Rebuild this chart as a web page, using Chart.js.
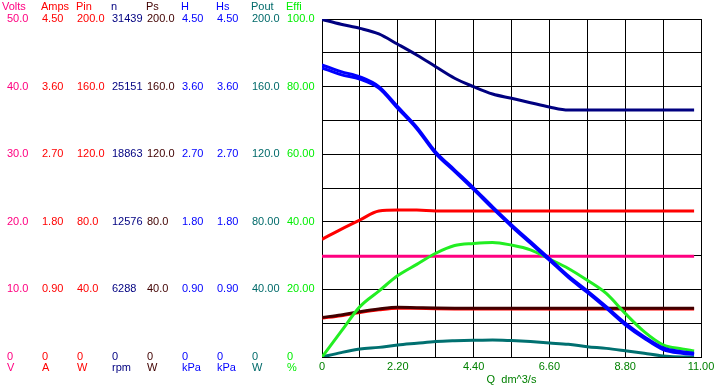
<!DOCTYPE html>
<html>
<head>
<meta charset="utf-8">
<script src="https://cdn.jsdelivr.net/npm/chart.js@4.4.1/dist/chart.umd.min.js"></script>
<style>
  html, body { margin: 0; padding: 0; background: #fff; }
</style>
</head>
<body>
<canvas id="fanChart" width="719" height="385"></canvas>
<script>
// flow rate Q (dm^3/s) where the curves were read
const flow = [0, 0.55, 1.1, 1.65, 2.2, 2.75, 3.3, 3.85, 4.4, 4.95, 5.5, 6.05, 6.6, 7.15, 7.7, 8.25, 8.8, 9.35, 9.9, 10.45, 10.8];

const volts = [14.9, 14.9, 14.9, 14.9, 14.9, 14.9, 14.9, 14.9, 14.9, 14.9, 14.9, 14.9, 14.9, 14.9, 14.9, 14.9, 14.9, 14.9, 14.9, 14.9, 14.9];
const amps  = [1.567, 1.70, 1.824, 1.944, 1.957, 1.957, 1.944, 1.944, 1.944, 1.944, 1.944, 1.944, 1.944, 1.944, 1.944, 1.944, 1.944, 1.944, 1.944, 1.944, 1.944];
const pin   = [23.0, 24.4, 26.3, 27.9, 28.9, 28.8, 28.5, 28.4, 28.4, 28.4, 28.4, 28.4, 28.4, 28.4, 28.4, 28.4, 28.4, 28.4, 28.4, 28.4, 28.4];
const speed = [31400, 30950, 30570, 30050, 29086, 28090, 27002, 25925, 25142, 24462, 24063, 23654, 23254, 22975, 22975, 22975, 22975, 22975, 22975, 22975, 22975];
const ps    = [23.4, 24.9, 26.8, 28.4, 29.4, 29.2, 29.0, 28.9, 28.9, 28.9, 28.9, 28.9, 28.9, 28.9, 28.9, 28.9, 28.9, 28.9, 28.9, 28.9, 28.9];
const head  = [3.89, 3.80, 3.73, 3.60, 3.33, 3.06, 2.73, 2.49, 2.25, 2.00, 1.76, 1.535, 1.31, 1.08, 0.88, 0.67, 0.45, 0.27, 0.12, 0.07, 0.05];
const headS = [3.85, 3.76, 3.70, 3.58, 3.31, 3.04, 2.71, 2.47, 2.23, 1.98, 1.74, 1.515, 1.29, 1.06, 0.86, 0.65, 0.43, 0.25, 0.10, 0.05, 0.035];
const pout  = [0, 2.6, 4.7, 5.7, 7.1, 8.1, 9.1, 9.6, 9.9, 10.1, 9.7, 9.1, 8.3, 7.5, 6.1, 5.1, 3.7, 2.2, 0.6, 0, 0];
const effi  = [0, 7.5, 14.9, 19.5, 24.1, 27.4, 30.7, 33.0, 33.6, 33.9, 33.1, 31.7, 29.0, 26.2, 22.7, 18.8, 12.9, 7.5, 3.6, 2.4, 1.8];

// axis columns, left to right
const axisNames  = ['Volts', 'Amps', 'Pin', 'n', 'Ps', 'H', 'Hs', 'Pout', 'Effi'];
const axisUnits  = ['V', 'A', 'W', 'rpm', 'W', 'kPa', 'kPa', 'W', '%'];
const axisMax    = [50, 4.5, 200, 31439, 200, 4.5, 4.5, 200, 100];
const axisColors = ['#ff0080', '#ff0000', '#ff0000', '#000080', '#400000', '#0000ff', '#0000ff', '#006a6a', '#00ee00'];

const voltsTicks = ['0', '10.0', '20.0', '30.0', '40.0', '50.0'];
const ampsTicks  = ['0', '0.90', '1.80', '2.70', '3.60', '4.50'];
const pinTicks   = ['0', '40.0', '80.0', '120.0', '160.0', '200.0'];
const nTicks     = ['0', '6288', '12576', '18863', '25151', '31439'];
const psTicks    = ['0', '40.0', '80.0', '120.0', '160.0', '200.0'];
const hTicks     = ['0', '0.90', '1.80', '2.70', '3.60', '4.50'];
const hsTicks    = ['0', '0.90', '1.80', '2.70', '3.60', '4.50'];
const poutTicks  = ['0', '40.00', '80.00', '120.0', '160.0', '200.0'];
const effiTicks  = ['0', '20.00', '40.00', '60.00', '80.00', '100.0'];
const qTicks     = ['0', '2.20', '4.40', '6.60', '8.80', '11.00'];

const axisTicks = [voltsTicks, ampsTicks, pinTicks, nTicks, psTicks, hTicks, hsTicks, poutTicks, effiTicks];

const FONT = '"Liberation Sans", Arial, sans-serif';
Chart.defaults.font.family = FONT;
Chart.defaults.font.size = 11;

function series(values, axis, color) {
  return {
    data: flow.map((q, k) => ({ x: q, y: values[k] })),
    yAxisID: axis,
    borderColor: color,
    backgroundColor: color,
    borderWidth: 3,
    pointRadius: 0,
    cubicInterpolationMode: 'monotone',
    fill: false,
  };
}

// first dataset ends up on top
const datasets = [
  series(head, 'H', '#0000ff'),
  series(headS, 'Hs', '#0000ff'),
  series(speed, 'n', '#000080'),
  series(effi, 'Effi', '#22ee22'),
  series(ps, 'Ps', '#400000'),
  series(pout, 'Pout', '#007070'),
  series(volts, 'Volts', '#ff0080'),
  series(pin, 'Pin', '#ff0000'),
  series(amps, 'Amps', '#ff0000'),
];

const scales = {
  x: {
    type: 'linear', min: 0, max: 11,
    ticks: {
      count: 11, autoSkip: false, maxRotation: 0, padding: 3, color: '#008000',
      callback: (v, i) => (i % 2 ? '' : qTicks[i / 2])
    },
    grid: { color: '#000', lineWidth: 1, drawTicks: false, tickLength: 0 },
    border: { color: '#000' },
    title: { display: true, text: 'Q  dm^3/s', color: '#008000', padding: 0, font: { size: 11, lineHeight: 1 } },
    afterFit: (s) => { s.height = 28; }
  }
};

axisNames.forEach((name, i) => {
  scales[name] = {
    type: 'linear', position: 'left', weight: axisNames.length - i,
    min: 0, max: axisMax[i],
    ticks: {
      count: 11, autoSkip: false, crossAlign: 'far', color: axisColors[i],
      callback: (v, k) => (k % 2 ? '' : axisTicks[i][k / 2])
    },
    grid: { display: name === 'Effi', color: '#000', lineWidth: 1, drawTicks: false, tickLength: 0 },
    border: { display: name === 'Effi', color: '#000' },
    afterFit: (s) => { s.width = 35; }
  };
});

// column headers above and units below each axis column
const columnTitles = {
  id: 'columnTitles',
  afterDraw(chart) {
    const ctx = chart.ctx;
    ctx.save();
    ctx.font = '11px ' + FONT;
    ctx.textAlign = 'left';
    ctx.textBaseline = 'middle';
    axisNames.forEach((name, i) => {
      const s = chart.scales[name];
      ctx.fillStyle = axisColors[i];
      ctx.fillText(name, s.left - (i === 0 ? 5 : 1), 7);
      ctx.fillText(axisUnits[i], s.left, chart.chartArea.bottom + 11);
    });
    ctx.restore();
  }
};

new Chart(document.getElementById('fanChart'), {
  type: 'line',
  data: { datasets },
  options: {
    responsive: false,
    animation: false,
    layout: { padding: { left: 7, top: 19, right: 18, bottom: 0 } },
    plugins: { legend: { display: false }, tooltip: { enabled: false } },
    scales
  },
  plugins: [columnTitles]
});
</script>
</body>
</html>
